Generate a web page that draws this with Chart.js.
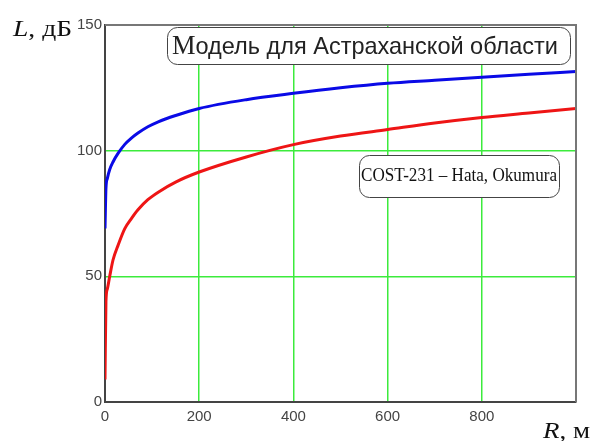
<!DOCTYPE html>
<html>
<head>
<meta charset="utf-8">
<script src="https://cdn.jsdelivr.net/npm/chart.js@4.4.0/dist/chart.umd.min.js"></script>
<style>
    html, body { margin: 0; padding: 0; background: #fff; }
</style>
</head>
<body>
<canvas id="lossChart" width="591" height="441"></canvas>
<script>
// distance R, m
var distances = [0, 2, 5, 10, 17, 28, 42, 56, 70, 91, 113, 150, 200, 300, 400, 500, 600, 700, 800, 900, 1000];
// path loss L, dB - model for Astrakhan region (blue)
var astrakhanModel = [69, 85, 89, 92.5, 95.5, 99, 102.5, 105, 107, 109.5, 111.5, 114, 116.8, 120.3, 122.8, 125, 126.8, 128, 129.2, 130.4, 131.5];
// path loss L, dB - COST-231 Hata, Okumura (red)
var costHata = [9, 40, 45, 50, 56.5, 62.5, 69, 73, 76.5, 80.5, 83.5, 87.5, 91.5, 97.5, 102.4, 105.8, 108.4, 111, 113.2, 115, 116.8];
var xTickValues = [0, 200, 400, 600, 800];
var yTickValues = [0, 50, 100, 150];
var titleText = 'Модель для Астраханской области';
var legendText = 'COST-231 – Hata, Okumura';

function toPoints(ys) {
    return distances.map(function (x, i) { return { x: x, y: ys[i] }; });
}

// draws pieces [text, font] in a row, squeezed/stretched to the wanted width
function drawRow(ctx, pieces, x, y, width) {
    var total = 0;
    pieces.forEach(function (p) { ctx.font = p[1]; total += ctx.measureText(p[0]).width; });
    var k = width / total;
    ctx.save();
    ctx.translate(x, y);
    ctx.scale(k, 1);
    var cx = 0;
    pieces.forEach(function (p) {
        ctx.font = p[1];
        ctx.fillText(p[0], cx, 0);
        cx += ctx.measureText(p[0]).width;
    });
    ctx.restore();
}

var gridGreen = 'rgb(60, 235, 60)';

var decorations = {
    id: 'decorations',
    afterDraw: function (chart) {
        var ctx = chart.ctx, a = chart.chartArea;
        ctx.save();

        // top and right frame lines
        ctx.strokeStyle = '#777';
        ctx.lineWidth = 2;
        ctx.beginPath();
        ctx.moveTo(a.left, a.top);
        ctx.lineTo(a.right, a.top);
        ctx.lineTo(a.right, a.bottom);
        ctx.stroke();

        ctx.textBaseline = 'alphabetic';
        ctx.textAlign = 'left';

        // title box
        ctx.fillStyle = '#fff';
        ctx.strokeStyle = '#444';
        ctx.lineWidth = 1;
        ctx.beginPath();
        ctx.roundRect(167.5, 27.5, 403, 37, 10);
        ctx.fill();
        ctx.stroke();
        ctx.fillStyle = '#222';
        drawRow(ctx, [[titleText.charAt(0), '27px "Liberation Serif"'],
                      [titleText.slice(1), '24px "Liberation Sans"']], 172, 54, 386);

        // legend box
        ctx.fillStyle = '#fff';
        ctx.beginPath();
        ctx.roundRect(359.5, 155.5, 200, 42, 10);
        ctx.fill();
        ctx.stroke();
        ctx.fillStyle = '#111';
        drawRow(ctx, [[legendText, '18px "Liberation Serif"']], 361, 181, 196);

        // axis names
        drawRow(ctx, [['L', 'italic 23px "Liberation Serif"'],
                      [', дБ', '23px "Liberation Serif"']], 13, 36, 59);
        drawRow(ctx, [['R', 'italic 23px "Liberation Serif"'],
                      [', м', '23px "Liberation Serif"']], 543, 438, 47);

        ctx.restore();
    }
};

var tickFont = { family: 'Liberation Sans', size: 15 };

var ctx = document.getElementById('lossChart').getContext('2d');
new Chart(ctx, {
    type: 'line',
    data: {
        datasets: [{
            label: 'Astrakhan',
            data: toPoints(astrakhanModel),
            borderColor: '#0a0ae6',
            borderWidth: 3,
            pointRadius: 0,
            cubicInterpolationMode: 'monotone'
        }, {
            label: 'COST-231',
            data: toPoints(costHata),
            borderColor: '#ee1515',
            borderWidth: 3,
            pointRadius: 0,
            cubicInterpolationMode: 'monotone'
        }]
    },
    options: {
        responsive: false,
        animation: false,
        layout: { padding: { top: 25, right: 15, left: 0, bottom: 0 } },
        plugins: {
            legend: { display: false },
            tooltip: { enabled: false }
        },
        scales: {
            x: {
                type: 'linear',
                min: 0,
                max: 1000,
                afterBuildTicks: function (scale) {
                    scale.ticks = xTickValues.concat([1000]).map(function (v) { return { value: v }; });
                },
                afterFit: function (scale) { scale.height = 39; },
                ticks: {
                    padding: 6,
                    color: '#444',
                    font: tickFont,
                    callback: function (v) { return v === 1000 ? '' : v; }
                },
                grid: {
                    drawTicks: false,
                    lineWidth: 1.5,
                    color: function (c) {
                        return (c.tick && (c.tick.value === 0 || c.tick.value === 1000)) ? 'rgba(0,0,0,0)' : gridGreen;
                    }
                },
                border: { color: '#444', width: 2 }
            },
            y: {
                min: 0,
                max: 150,
                afterBuildTicks: function (scale) {
                    scale.ticks = yTickValues.map(function (v) { return { value: v }; });
                },
                afterFit: function (scale) { scale.width = 105; },
                ticks: {
                    padding: 3,
                    color: '#444',
                    font: tickFont
                },
                grid: {
                    drawTicks: false,
                    lineWidth: 1.5,
                    color: function (c) {
                        return (c.tick && (c.tick.value === 0 || c.tick.value === 150)) ? 'rgba(0,0,0,0)' : gridGreen;
                    }
                },
                border: { color: '#444', width: 2 }
            }
        }
    },
    plugins: [decorations]
});
</script>
</body>
</html>
